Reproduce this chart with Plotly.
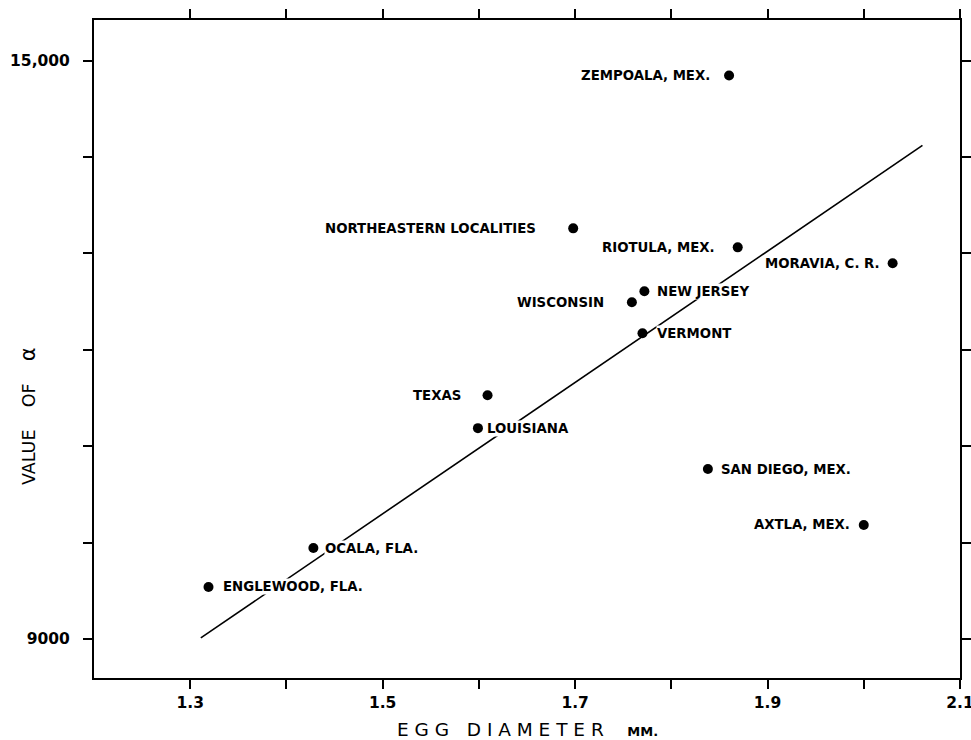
import plotly.graph_objects as go

# ---- data ----
localities = ["ZEMPOALA, MEX.", "NORTHEASTERN LOCALITIES", "RIOTULA, MEX.", "MORAVIA, C. R.",
              "NEW JERSEY", "WISCONSIN", "VERMONT", "TEXAS", "LOUISIANA",
              "SAN DIEGO, MEX.", "AXTLA, MEX.", "OCALA, FLA.", "ENGLEWOOD, FLA."]
egg_diameter = [1.860, 1.698, 1.869, 2.030, 1.772, 1.759, 1.770, 1.609, 1.599,
                1.838, 2.000, 1.428, 1.319]
alpha_value = [14845, 13259, 13062, 12897, 12607, 12493, 12172, 11529, 11187,
               10763, 10183, 9944, 9540]

fit_x = [1.311, 2.061]
fit_y = [9012, 14119]

x_tick_vals = [1.3, 1.4, 1.5, 1.6, 1.7, 1.8, 1.9, 2.0, 2.1]
x_tick_text = ["1.3", "", "1.5", "", "1.7", "", "1.9", "", "2.1"]
y_tick_vals = [9000, 10000, 11000, 12000, 13000, 14000, 15000]
y_tick_text = ["9000", "", "", "", "", "", "15,000"]

# label placement (side of point, pixel gap from point centre)
label_side = ["left", "left", "left", "left", "right", "left", "right", "left", "right",
              "right", "left", "right", "right"]
label_gap = [18, 36, 22, 12, 12, 27, 14, 26, 8, 12, 13, 11, 13]

fig = go.Figure()
fig.add_trace(go.Scatter(x=fit_x, y=fit_y, mode="lines",
                         line=dict(color="black", width=1.6), hoverinfo="skip"))
fig.add_trace(go.Scatter(x=egg_diameter, y=alpha_value, mode="markers", text=localities,
                         marker=dict(color="black", size=10)))

label_font = dict(family="DejaVu Sans", size=13.3, color="black")
for name, xv, yv, side, gap in zip(localities, egg_diameter, alpha_value, label_side, label_gap):
    fig.add_annotation(x=xv, y=yv, text="<b>" + name + "</b>", showarrow=False,
                       xanchor="right" if side == "left" else "left",
                       xshift=-gap if side == "left" else gap,
                       yanchor="middle", font=label_font, bgcolor="white", borderpad=0)

# axis titles
fig.add_annotation(xref="paper", yref="paper", x=0, xshift=301, y=0, yshift=-51,
                   xanchor="left", yanchor="middle",
                   text="E G G   D I A M E T E R    <span style='font-size:13px'><b>MM.</b></span>",
                   showarrow=False, font=dict(family="DejaVu Sans", size=18.5, color="black"))
fig.add_annotation(xref="paper", yref="paper", x=0, xshift=-66, y=0.398, textangle=-90,
                   text="VALUE    OF    <span style='font-size:21px'>α</span>",
                   showarrow=False, xanchor="center", yanchor="middle",
                   font=dict(family="DejaVu Sans", size=17.5, color="black"))

axis_common = dict(showline=True, linecolor="black", linewidth=2, mirror="ticks",
                   ticks="outside", tickcolor="black", tickwidth=2, ticklen=9,
                   showgrid=False, zeroline=False, automargin=False,
                   ticklabeloverflow="allow",
                   tickfont=dict(family="DejaVu Sans", size=15.5, color="black"))
fig.update_xaxes(range=[1.2, 2.1], tickvals=x_tick_vals,
                 ticktext=["<b>%s</b>" % t if t else "" for t in x_tick_text],
                 tickangle=0, **axis_common)
fig.update_yaxes(range=[8596, 15420], tickvals=y_tick_vals,
                 ticktext=["<b>%s</b>" % t if t else "" for t in y_tick_text],
                 ticklabelstandoff=10, **axis_common)

fig.update_layout(width=971, height=740, showlegend=False,
                  paper_bgcolor="white", plot_bgcolor="white",
                  margin=dict(l=94, r=11, t=20, b=62))
fig.write_html("out.html", config={"displayModeBar": False},
               post_script="document.body.style.margin='0';document.body.style.overflow='hidden';")
